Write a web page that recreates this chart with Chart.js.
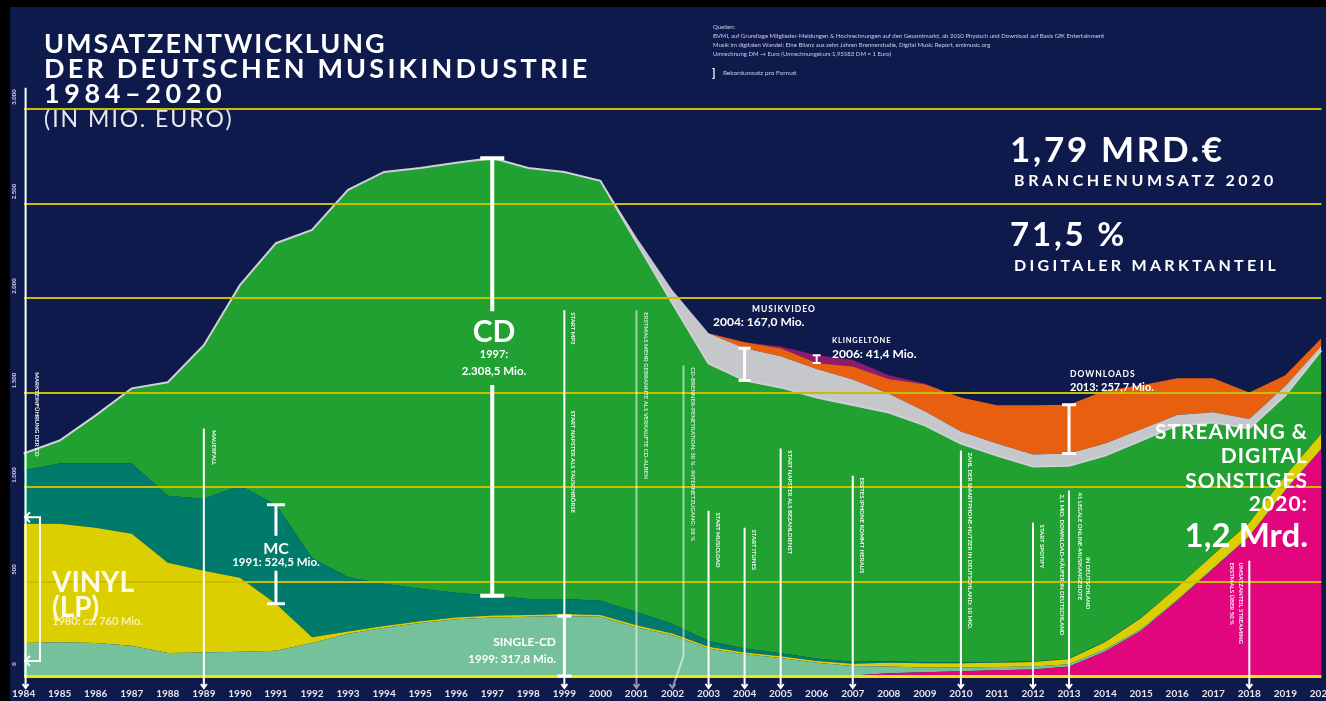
<!DOCTYPE html>
<html lang="de">
<head>
<meta charset="utf-8">
<title>Umsatzentwicklung der deutschen Musikindustrie 1984-2020</title>
<script src="https://cdn.jsdelivr.net/npm/chart.js@4.4.1/dist/chart.umd.min.js"></script>
<style>
  html, body { margin:0; padding:0; background:#000; overflow:hidden; }
  #wrap { position:relative; width:1326px; height:701px; overflow:hidden; }
  #bg { position:absolute; left:10px; top:7px; width:1316px; height:694px; background:#0f1a4c; }
  #chart { position:absolute; left:0; top:0; }
  .t { position:absolute; color:#fff; font-family:Lato, "Open Sans", sans-serif; font-weight:700; line-height:1; white-space:nowrap; }
  .c { text-align:center; width:160px; }
  .r { text-align:right; }
  .src { position:absolute; left:713px; color:#c9cde2; font-family:Lato, sans-serif; font-size:6px; line-height:1; white-space:nowrap; }
</style>
</head>
<body>
<div id="wrap">
  <div id="bg"></div>
  <canvas id="chart" width="1345" height="714"></canvas>

  <!-- title -->
  <div class="t" style="left:44px;top:28.5px;font-size:27px;letter-spacing:2px">UMSATZENTWICKLUNG</div>
  <div class="t" style="left:44px;top:53.5px;font-size:27px;letter-spacing:3.2px">DER DEUTSCHEN MUSIKINDUSTRIE</div>
  <div class="t" style="left:44px;top:78.5px;font-size:27px;letter-spacing:4.6px">1984–2020</div>
  <div class="t" style="left:44px;top:107px;font-size:23px;font-weight:400;letter-spacing:2px;color:#e6e8f0">(IN MIO. EURO)</div>

  <!-- sources -->
  <div class="src" style="top:24px">Quellen:</div>
  <div class="src" style="top:33px">BVMI, auf Grundlage Mitglieder-Meldungen &amp; Hochrechnungen auf den Gesamtmarkt, ab 2010 Physisch und Download auf Basis GfK Entertainment</div>
  <div class="src" style="top:42px">Musik im digitalen Wandel: Eine Bilanz aus zehn Jahren Brennerstudie, Digital Music Report, emimusic.org</div>
  <div class="src" style="top:51px">Umrechnung DM → Euro (Umrechnungskurs 1,95583 DM = 1 Euro)</div>
  <div class="t" style="left:712px;top:67px;font-size:11px">]</div>
  <div class="src" style="left:723px;top:70px;font-size:6.5px">Rekordumsatz pro Format</div>

  <!-- key figures -->
  <div class="t" style="left:1010px;top:131px;font-size:35px;letter-spacing:2.7px">1,79 MRD.€</div>
  <div class="t" style="left:1014px;top:172.3px;font-size:16px;letter-spacing:3.6px">BRANCHENUMSATZ 2020</div>
  <div class="t" style="left:1010px;top:216.5px;font-size:33px;letter-spacing:2.8px">71,5 %</div>
  <div class="t" style="left:1014px;top:257.3px;font-size:16px;letter-spacing:3.3px">DIGITALER MARKTANTEIL</div>

  <!-- format labels -->
  <div class="t c" style="left:414px;top:315px;font-size:30px">CD</div>
  <div class="t c" style="left:414px;top:348px;font-size:11px">1997:</div>
  <div class="t c" style="left:414px;top:365px;font-size:11.5px">2.308,5 Mio.</div>

  <div class="t c" style="left:196px;top:540px;font-size:16px">MC</div>
  <div class="t c" style="left:196px;top:556px;font-size:11.5px">1991: 524,5 Mio.</div>

  <div class="t" style="left:52px;top:567px;font-size:28px;color:#fffbe6">VINYL</div>
  <div class="t" style="left:52px;top:592px;font-size:28px;color:#fffbe6">(LP)</div>
  <div class="t" style="left:52px;top:615px;font-size:11px;color:#f6f0b4">1980: ca. 760 Mio.</div>

  <div class="t r" style="right:770px;top:636px;font-size:12px">SINGLE-CD</div>
  <div class="t r" style="right:770px;top:653px;font-size:11.5px">1999: 317,8 Mio.</div>

  <div class="t" style="left:752px;top:304.5px;font-size:8.5px;letter-spacing:1px">MUSIKVIDEO</div>
  <div class="t" style="left:713px;top:316px;font-size:12px">2004: 167,0 Mio.</div>
  <div class="t" style="left:832px;top:336.7px;font-size:7.5px;letter-spacing:0.8px">KLINGELTÖNE</div>
  <div class="t" style="left:832px;top:348px;font-size:12px">2006: 41,4 Mio.</div>
  <div class="t" style="left:1070px;top:369.6px;font-size:8.5px;letter-spacing:1px">DOWNLOADS</div>
  <div class="t" style="left:1070px;top:381px;font-size:11px">2013: 257,7 Mio.</div>

  <div class="t r" style="right:18px;top:419.5px;font-size:21px;letter-spacing:1px">STREAMING &amp;</div>
  <div class="t r" style="right:18px;top:443.5px;font-size:21px;letter-spacing:1px">DIGITAL</div>
  <div class="t r" style="right:18px;top:468.5px;font-size:21px;letter-spacing:1px">SONSTIGES</div>
  <div class="t r" style="right:18px;top:491.5px;font-size:21px;letter-spacing:1px">2020:</div>
  <div class="t r" style="right:18px;top:517.5px;font-size:33px">1,2 Mrd.</div>
</div>

<script>
// years on the x axis
var years = ['1984','1985','1986','1987','1988','1989','1990','1991','1992','1993',
             '1994','1995','1996','1997','1998','1999','2000','2001','2002','2003',
             '2004','2005','2006','2007','2008','2009','2010','2011','2012','2013',
             '2014','2015','2016','2017','2018','2019','2020'];

// revenue per format, Mio. Euro
var streaming = [0,0,0,0,0,0,0,0,0,0, 0,0,0,0,0,0,0,0,0,0, 0,0,0,3,15,20,25,30,35,50, 130,239,398,567,737,981,1200];
var singles   = [175,178,175,160,122,125,128,133,175,223, 255,280,300,310,313,318,313,258,215,145, 115,95,70,50,35,25,20,18,15,12, 10,8,6,5,4,3,3];
var vinyl     = [631,628,610,593,477,432,392,249,30,12, 10,10,10,10,10,10,10,10,10,10, 10,10,10,12,20,22,22,22,24,28, 40,60,65,70,70,75,80];
var mc        = [281,318,339,371,355,381,487,524,420,287, 223,171,130,104,85,80,75,70,50,30, 20,15,12,10,8,6,5,4,3,2, 2,2,1,1,1,1,1];
var cd        = [90,122,255,398,600,812,1061,1384,1735,2050, 2179,2227,2275,2316,2280,2259,2222,1957,1696,1469, 1419,1407,1382,1359,1316,1253,1158,1092,1031,1021, 984,937,856,698,498,425,439];
var video     = [0,0,0,0,0,0,0,0,0,0, 0,0,0,0,0,0,5,27,70,159, 170,165,150,135,100,75,64,64,64,64, 64,60,55,55,50,50,25];
var downloads = [0,0,0,0,0,0,0,0,0,0, 0,0,0,0,0,0,0,0,0,0, 32,42,32,68,77,142,180,202,260,258, 281,232,194,179,140,56,39];
var ringtones = [0,0,0,0,0,0,0,0,0,0, 0,0,0,0,0,0,0,0,0,0, 0,10,41,35,20,5,0,0,0,0, 0,0,0,0,0,0,0];

// y axis labels
var yTickLabels = {0:'0', 500:'500', 1000:'1.000', 1500:'1.500', 2000:'2.000', 2500:'2.500', 3000:'3.000'};

// milestones: year, top of the marker line (Mio.), notes
var events = [
  {year:'1984', top:3112, shift:2, notes:[{dx:11, at:1607, text:'MARKTEINFÜHRUNG DER CD'}]},
  {year:'1989', top:1310, notes:[{dx:10, at:1300, text:'MAUERFALL'}]},
  {year:'1999', top:1935, notes:[{dx:9, at:1925, text:'START MP3'}, {dx:9, at:1405, text:'START NAPSTER ALS TAUSCHBÖRSE'}]},
  {year:'2001', top:1935, alpha:0.55, notes:[{dx:9, at:1925, text:'ERSTMALS MEHR GEBRANNTE ALS VERKAUFTE CD-ALBEN'}]},
  {year:'2002', top:1644, alpha:0.55, bend:11, notes:[{dx:9, at:1634, text:'CD-BRENNER-PENETRATION: 30 % · INTERNETZUGANG: 38 %'}]},
  {year:'2003', top:875, notes:[{dx:9, at:865, text:'START MUSICLOAD'}]},
  {year:'2004', top:785, notes:[{dx:9, at:775, text:'START ITUNES'}]},
  {year:'2005', top:1204, notes:[{dx:9, at:1194, text:'START NAPSTER ALS BEZAHLDIENST'}]},
  {year:'2007', top:1060, notes:[{dx:9, at:1050, text:'ERSTES IPHONE KOMMT HERAUS'}]},
  {year:'2010', top:1193, notes:[{dx:9, at:1183, text:'ZAHL DER SMARTPHONE-NUTZER IN DEUTSCHLAND: 10 MIO.'}]},
  {year:'2012', top:811, notes:[{dx:9, at:801, text:'START SPOTIFY'}]},
  {year:'2013', top:981, notes:[{dx:-7, at:960, text:'2,1 MIO. DOWNLOAD-KÄUFER IN DEUTSCHLAND'},
                                 {dx:11, at:971, text:'41 LEGALE ONLINE-MUSIKANGEBOTE'}, {dx:19, at:630, text:'IN DEUTSCHLAND'}]},
  {year:'2018', top:610, notes:[{dx:-8, at:600, text:'UMSATZANTEIL STREAMING'}, {dx:-17, at:600, text:'ERSTMALS ÜBER 50 %'}]}
];

function bracket(ctx, x, yTop, yBot, cap, lw, gapTop, gapBot) {
  ctx.save();
  ctx.strokeStyle = '#ffffff';
  ctx.lineWidth = lw;
  ctx.beginPath();
  if (gapTop != null) {
    ctx.moveTo(x, yTop); ctx.lineTo(x, gapTop);
    ctx.moveTo(x, gapBot); ctx.lineTo(x, yBot);
  } else {
    ctx.moveTo(x, yTop); ctx.lineTo(x, yBot);
  }
  ctx.moveTo(x - cap / 2, yTop); ctx.lineTo(x + cap / 2, yTop);
  ctx.moveTo(x - cap / 2, yBot); ctx.lineTo(x + cap / 2, yBot);
  ctx.stroke();
  ctx.restore();
}

function vtext(ctx, text, x, y, rot, font, color, align) {
  ctx.save();
  ctx.translate(x, y);
  ctx.rotate(rot);
  ctx.font = font;
  ctx.fillStyle = color;
  ctx.textAlign = align || 'left';
  ctx.textBaseline = 'middle';
  ctx.fillText(text, 0, 0);
  ctx.restore();
}

var overlay = {
  id: 'overlay',
  afterDraw: function(chart) {
    var ctx = chart.ctx;
    var xs = chart.scales.x, ys = chart.scales.y;
    var base = ys.getPixelForValue(0);

    // y labels, rotated
    ys.ticks.forEach(function(t) {
      var py = ys.getPixelForValue(t.value);
      vtext(ctx, yTickLabels[t.value], 14, py - 12, -Math.PI / 2, 'bold 6px Lato', '#d6d9e8', 'center');
    });

    // milestone lines
    events.forEach(function(ev) {
      var x = xs.getPixelForValue(years.indexOf(ev.year)) + (ev.shift || 0);
      var top = ys.getPixelForValue(ev.top);
      var bx = x + (ev.bend || 0);
      ctx.save();
      ctx.strokeStyle = 'rgba(255,255,255,' + (ev.alpha || 1) + ')';
      ctx.lineWidth = 2;
      ctx.beginPath();
      ctx.moveTo(bx, top);
      if (ev.bend) { ctx.lineTo(bx, base - 20); }
      ctx.lineTo(x, 688);
      ctx.moveTo(x - 3, 684); ctx.lineTo(x, 688); ctx.lineTo(x + 3, 684);
      ctx.stroke();
      ctx.restore();
      ev.notes.forEach(function(n) {
        vtext(ctx, n.text, bx + n.dx, ys.getPixelForValue(n.at), Math.PI / 2, 'bold 6px Lato',
              'rgba(255,255,255,' + (ev.alpha ? 0.8 : 0.95) + ')');
      });
    });

    // vinyl arrow bracket
    var vt = ys.getPixelForValue(840), vb = ys.getPixelForValue(80);
    ctx.save();
    ctx.strokeStyle = '#ffffff';
    ctx.lineWidth = 2;
    ctx.beginPath();
    ctx.moveTo(25, vt); ctx.lineTo(40, vt); ctx.lineTo(40, vb); ctx.lineTo(25, vb);
    ctx.moveTo(30, vt - 5); ctx.lineTo(25, vt); ctx.lineTo(30, vt + 5);
    ctx.moveTo(30, vb - 5); ctx.lineTo(25, vb); ctx.lineTo(30, vb + 5);
    ctx.stroke();
    ctx.restore();

    // record brackets from the stacked layers
    function layerTop(name, year) {
      var idx = chart.data.datasets.findIndex(function(d) { return d.label === name; });
      return chart.getDatasetMeta(idx).data[years.indexOf(year)].y;
    }
    function px(year) { return xs.getPixelForValue(years.indexOf(year)); }

    bracket(ctx, px('1997'), layerTop('CD', '1997'), layerTop('MC', '1997'), 24, 4,
            ys.getPixelForValue(1930), ys.getPixelForValue(1540));
    bracket(ctx, px('1991'), layerTop('MC', '1991'), layerTop('Vinyl', '1991'), 18, 3,
            ys.getPixelForValue(742), ys.getPixelForValue(557));
    bracket(ctx, px('1999'), layerTop('Single-CD', '1999'), base, 14, 3);
    bracket(ctx, px('2004'), layerTop('Musikvideo', '2004'), layerTop('CD', '2004'), 12, 3);
    bracket(ctx, px('2006'), layerTop('Klingeltöne', '2006'), layerTop('Downloads', '2006'), 8, 2);
    bracket(ctx, px('2013'), layerTop('Downloads', '2013'), layerTop('Musikvideo', '2013'), 14, 3);
  }
};

function area(label, data, color, first) {
  return {
    label: label,
    data: data,
    backgroundColor: color,
    borderColor: color,
    borderWidth: 0,
    pointRadius: 0,
    fill: first ? 'origin' : '-1'
  };
}

var cdSet = area('CD', cd, '#21a131');
cdSet.borderColor = '#cfd1d4';
cdSet.borderWidth = 2;

new Chart(document.getElementById('chart'), {
  type: 'line',
  data: {
    labels: years,
    datasets: [
      area('Streaming & Digital Sonstiges', streaming, '#e1067d', true),
      area('Single-CD', singles, '#74c19c'),
      area('Vinyl', vinyl, '#dccf00'),
      area('MC', mc, '#007b6b'),
      cdSet,
      area('Musikvideo', video, '#c5c7ca'),
      area('Downloads', downloads, '#e8600f'),
      area('Klingeltöne', ringtones, '#8d1b70')
    ]
  },
  options: {
    responsive: false,
    animation: false,
    layout: { padding: { left: 18, right: 17, top: 109, bottom: 2 } },
    plugins: { legend: { display: false }, tooltip: { enabled: false } },
    elements: { line: { tension: 0 } },
    scales: {
      x: {
        offset: false,
        grid: { display: false, drawTicks: false },
        border: { display: false },
        ticks: {
          color: '#e4e6f0',
          font: { family: 'Lato', size: 10, weight: 'bold' },
          padding: 12,
          autoSkip: false,
          maxRotation: 0,
          minRotation: 0
        }
      },
      y: {
        stacked: true,
        min: 0,
        max: 3000,
        border: { display: false },
        ticks: { display: false, stepSize: 500 },
        grid: {
          z: 1,
          drawTicks: false,
          color: function(c) { return c.tick.value === 0 ? '#f3e500' : '#c8bd00'; },
          lineWidth: function(c) { return c.tick.value === 0 ? 3 : 2; }
        }
      }
    }
  },
  plugins: [overlay]
});
</script>
</body>
</html>
